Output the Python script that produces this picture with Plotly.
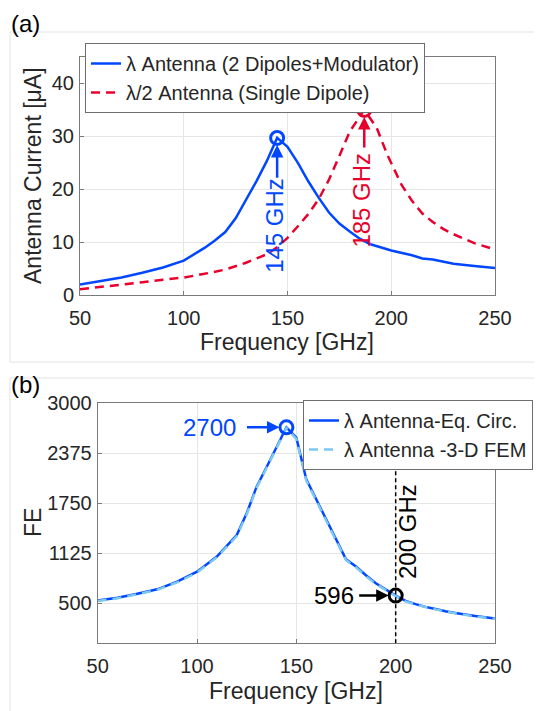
import plotly.graph_objects as go

# ---------------- data ----------------
# Panel (a): antenna current [uA] vs frequency [GHz]
freq_lambda = [50, 60, 70, 80, 90, 100, 110, 115, 120, 125, 130, 135, 140, 145,
               150, 155, 160, 165, 170, 175, 180, 185, 190, 195, 200, 210, 215,
               220, 225, 230, 240, 250]
cur_lambda = [2.0, 2.6, 3.3, 4.2, 5.2, 6.5, 8.9, 10.3, 11.9, 14.5, 17.9, 21.5, 25.3, 29.7,
              28.0, 25.0, 21.5, 18.4, 15.6, 13.5, 12.0, 10.6, 9.6, 9.0, 8.4, 7.5, 6.9,
              6.7, 6.3, 5.9, 5.5, 5.1]

freq_half = [50, 60, 70, 80, 90, 100, 110, 120, 130, 140, 145, 150, 155, 160, 165,
             170, 175, 180, 187, 193, 198, 205, 210, 215, 220, 225, 230, 240, 250]
cur_half = [1.1, 1.5, 1.9, 2.4, 2.9, 3.3, 4.0, 4.8, 6.1, 7.7, 9.0, 10.8, 13.0, 15.3, 18.1,
            21.8, 26.3, 30.9, 35.0, 31.6, 26.6, 20.8, 17.8, 15.4, 13.8, 12.5, 11.5, 9.8, 8.6]

peak_lambda = (145, 29.7)
peak_half = (187, 35.0)

# Panel (b): FE vs frequency
freq_fe = [50, 60, 70, 80, 90, 100, 110, 120, 125, 130, 136, 145, 150, 155, 160,
           165, 170, 175, 180, 185, 190, 200, 205, 210, 215, 220, 225, 230, 240, 250]
fe_circ = [535, 570, 620, 675, 770, 895, 1085, 1354, 1625, 1958, 2250, 2700, 2570, 2050, 1800,
           1560, 1300, 1050, 960, 850, 750, 596, 530, 490, 455, 430, 400, 380, 340, 310]
fe_fem = [528, 563, 612, 668, 762, 885, 1075, 1340, 1610, 1945, 2240, 2690, 2555, 2035, 1785,
          1545, 1285, 1040, 950, 840, 742, 590, 524, 484, 450, 424, 396, 375, 336, 306]

peak_fe = (145, 2700)
mark_fe = (200, 596)

xticks = [50, 100, 150, 200, 250]
yticks_a = [0, 10, 20, 30, 40]
yticks_b = [500, 1125, 1750, 2375, 3000]

# ---------------- style ----------------
W, H = 542, 711
OFF = 8  # page body margin of the browser
BLUE = "#0047ff"
RED = "#e8002d"
LBLUE = "#7cc8f2"
FONT = "Liberation Sans, Arial, sans-serif"
TXT = "#262626"
AX = "#7a7a7a"
GRID = "#e6e6e6"

def px(x):
    return (x - OFF) / W

def py(y):
    return 1 - (y - OFF) / H

fig = go.Figure()

fig.add_trace(go.Scatter(x=freq_lambda, y=cur_lambda, mode="lines",
                         line=dict(color=BLUE, width=2.5),
                         name="λ Antenna (2 Dipoles+Modulator)",
                         xaxis="x", yaxis="y", legend="legend"))
fig.add_trace(go.Scatter(x=freq_half, y=cur_half, mode="lines",
                         line=dict(color=RED, width=2.5, dash="9px,6px"),
                         name="λ/2 Antenna (Single Dipole)",
                         xaxis="x", yaxis="y", legend="legend"))
fig.add_trace(go.Scatter(x=[peak_lambda[0]], y=[peak_lambda[1]], mode="markers",
                         marker=dict(symbol="circle-open", size=13, color=BLUE,
                                     line=dict(width=3, color=BLUE)),
                         showlegend=False, xaxis="x", yaxis="y"))
fig.add_trace(go.Scatter(x=[peak_half[0]], y=[peak_half[1]], mode="markers",
                         marker=dict(symbol="circle-open", size=13, color=RED,
                                     line=dict(width=3, color=RED)),
                         showlegend=False, xaxis="x", yaxis="y"))

fig.add_trace(go.Scatter(x=freq_fe, y=fe_circ, mode="lines",
                         line=dict(color=BLUE, width=2.5),
                         name="λ Antenna-Eq. Circ.",
                         xaxis="x2", yaxis="y2", legend="legend2"))
fig.add_trace(go.Scatter(x=freq_fe, y=fe_fem, mode="lines",
                         line=dict(color=LBLUE, width=2.5, dash="9px,6px"),
                         name="λ Antenna -3-D FEM",
                         xaxis="x2", yaxis="y2", legend="legend2"))
fig.add_trace(go.Scatter(x=[peak_fe[0]], y=[peak_fe[1]], mode="markers",
                         marker=dict(symbol="circle-open", size=13, color=BLUE,
                                     line=dict(width=3, color=BLUE)),
                         showlegend=False, xaxis="x2", yaxis="y2"))
fig.add_trace(go.Scatter(x=[mark_fe[0]], y=[mark_fe[1]], mode="markers",
                         marker=dict(symbol="circle-open", size=13, color="black",
                                     line=dict(width=3, color="black")),
                         showlegend=False, xaxis="x2", yaxis="y2"))

axis_common = dict(showgrid=True, gridcolor=GRID, gridwidth=1, showline=True,
                   linecolor=AX, linewidth=1, mirror=True, ticks="inside",
                   ticklen=4, tickcolor=AX, zeroline=False, automargin=False,
                   tickfont=dict(family=FONT, size=20, color=TXT))

fig.update_layout(
    width=W, height=H, autosize=False,
    margin=dict(l=0, r=0, t=0, b=0, autoexpand=False),
    paper_bgcolor="white", plot_bgcolor="white",
    font=dict(family=FONT, color=TXT),
    xaxis=dict(domain=[px(80), px(495)], range=[50, 250], tickvals=xticks,
               anchor="y", ticklabelstandoff=5, **axis_common),
    yaxis=dict(domain=[py(295), py(57)], range=[0, 45], tickvals=yticks_a,
               anchor="x", ticklabelstandoff=1, **axis_common),
    xaxis2=dict(domain=[px(97.7), px(495)], range=[50, 250], tickvals=xticks,
                anchor="y2", ticklabelstandoff=5, **axis_common),
    yaxis2=dict(domain=[py(643.3), py(403.3)], range=[0, 3000], tickvals=yticks_b,
                anchor="x2", ticklabelstandoff=1, **axis_common),
    legend=dict(x=px(85), y=py(43), xanchor="left", yanchor="top",
                bgcolor="white", bordercolor="#6e6e6e", borderwidth=1,
                font=dict(family=FONT, size=20, color=TXT), tracegroupgap=0),
    legend2=dict(x=px(303), y=py(400), xanchor="left", yanchor="top",
                 bgcolor="white", bordercolor="#6e6e6e", borderwidth=1,
                 font=dict(family=FONT, size=20, color=TXT), tracegroupgap=0),
)

# panel frames
fig.add_shape(type="rect", xref="paper", yref="paper", x0=px(10), x1=1.05,
              y0=py(362), y1=py(32), line=dict(color="#e3e3e3", width=1), layer="below")
fig.add_shape(type="rect", xref="paper", yref="paper", x0=px(10), x1=1.05,
              y0=-0.05, y1=py(378), line=dict(color="#e3e3e3", width=1), layer="below")

# vertical marker line at 200 GHz
fig.add_shape(type="line", xref="x2", yref="y2", x0=mark_fe[0], x1=mark_fe[0],
              y0=0, y1=3000, line=dict(color="black", width=1.5, dash="4px,3px"))

def label(text, x, y, size, angle=0, xanchor="center", yanchor="middle"):
    return dict(text=text, x=px(x), y=py(y), xref="paper", yref="paper",
                xanchor=xanchor, yanchor=yanchor, showarrow=False, textangle=angle,
                font=dict(family=FONT, size=size, color="black" if size == 24 else TXT))

ann = []
# panel labels
ann.append(label("(a)", 9, 8, 24, xanchor="left", yanchor="top"))
ann.append(label("(b)", 9, 384, 24, xanchor="left"))
# axis titles
ann.append(label("Frequency [GHz]", 287, 342, 23))
ann.append(label("Antenna Current [μA]", 33, 176, 23, angle=-90))
ann.append(label("Frequency [GHz]", 296, 691, 23))
ann.append(label("FE", 33, 523, 23, angle=-90))

# panel (a) labels and arrows
ann.append(dict(text="145 GHz", x=peak_lambda[0], y=13.1, xref="x", yref="y",
                xanchor="center", yanchor="middle",
                showarrow=False, textangle=-90, xshift=-2,
                font=dict(family=FONT, size=24, color=BLUE)))
ann.append(dict(text="", x=peak_lambda[0], y=peak_lambda[1], ax=peak_lambda[0], ay=21.9,
                xref="x", yref="y", axref="x", ayref="y", showarrow=True,
                arrowhead=2, arrowsize=1, arrowwidth=2.5, arrowcolor=BLUE, standoff=7))
ann.append(dict(text="185 GHz", x=peak_half[0], y=17.9, xref="x", yref="y",
                xanchor="center", yanchor="middle",
                showarrow=False, textangle=-90, xshift=-3,
                font=dict(family=FONT, size=24, color=RED)))
ann.append(dict(text="", x=peak_half[0], y=peak_half[1], ax=peak_half[0], ay=27.6,
                xref="x", yref="y", axref="x", ayref="y", showarrow=True,
                arrowhead=2, arrowsize=1, arrowwidth=2.5, arrowcolor=RED, standoff=7))

# panel (b) labels and arrows
ann.append(dict(text="2700", x=peak_fe[0], y=peak_fe[1], xref="x2", yref="y2",
                showarrow=False, xanchor="right", yanchor="middle", xshift=-48,
                font=dict(family=FONT, size=24, color=BLUE)))
ann.append(dict(text="", x=peak_fe[0], y=peak_fe[1], ax=-41, ay=0,
                xref="x2", yref="y2", showarrow=True,
                arrowhead=2, arrowsize=1, arrowwidth=2.5, arrowcolor=BLUE, standoff=7))
ann.append(dict(text="596", x=mark_fe[0], y=mark_fe[1], xref="x2", yref="y2",
                showarrow=False, xanchor="right", yanchor="middle", xshift=-40,
                font=dict(family=FONT, size=24, color="black")))
ann.append(dict(text="", x=mark_fe[0], y=mark_fe[1], ax=-38, ay=0,
                xref="x2", yref="y2", showarrow=True,
                arrowhead=2, arrowsize=1, arrowwidth=2.5, arrowcolor="black", standoff=7))
ann.append(dict(text="200 GHz", x=mark_fe[0], y=1400, xref="x2", yref="y2",
                xanchor="center", yanchor="middle",
                showarrow=False, textangle=-90, xshift=12,
                font=dict(family=FONT, size=24, color="black")))

fig.update_layout(annotations=ann)

fig.write_html("out.html")
